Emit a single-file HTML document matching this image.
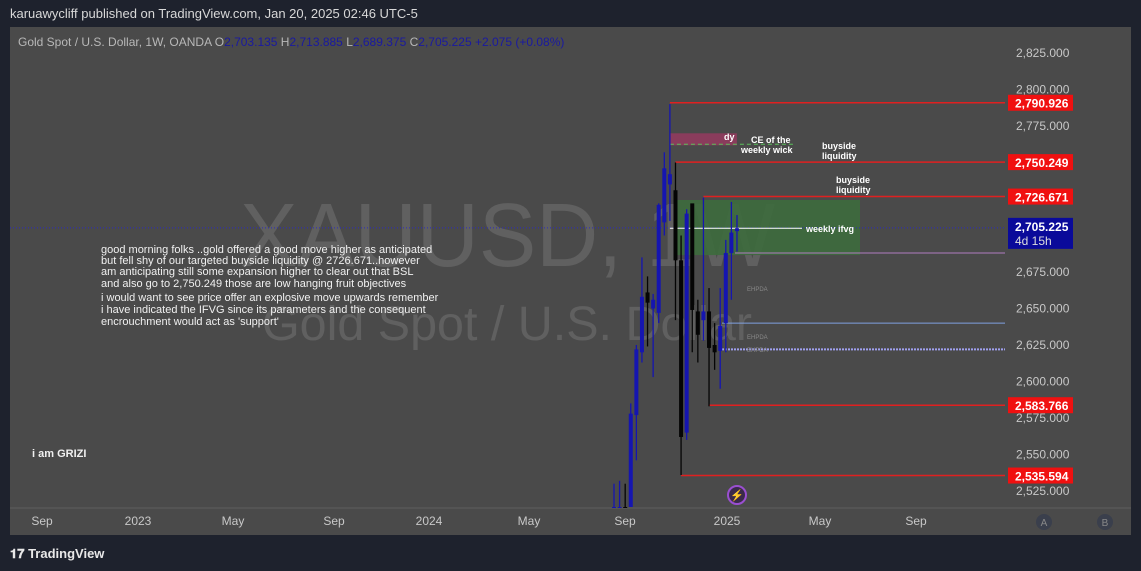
<!DOCTYPE html>
<html><head><meta charset="utf-8"><style>
body{margin:0;width:1141px;height:571px;background:#1e222d;overflow:hidden;font-family:"Liberation Sans",sans-serif}
svg{position:absolute;left:0;top:0}
</style></head><body>
<svg id="c" width="1141" height="571">
<rect x="0" y="0" width="1141" height="571" fill="#1e222d"/>
<rect x="10" y="27" width="1121" height="508" fill="#4a4a4a"/>
<text x="10" y="18" fill="#d8d8d8" font-size="13">karuawycliff published on TradingView.com, Jan 20, 2025 02:46 UTC-5</text>
<text x="18" y="46" font-size="12" fill="#b8b8b8">Gold Spot / U.S. Dollar, 1W, OANDA  O<tspan fill="#1a1aa0">2,703.135</tspan>  H<tspan fill="#1a1aa0">2,713.885</tspan>  L<tspan fill="#1a1aa0">2,689.375</tspan>  C<tspan fill="#1a1aa0">2,705.225 +2.075 (+0.08%)</tspan></text>
<text x="240" y="266" font-size="90" fill="rgba(255,255,255,0.12)" textLength="535" lengthAdjust="spacingAndGlyphs">XAUUSD, 1W</text>
<text x="262" y="340" font-size="48" fill="rgba(255,255,255,0.12)" textLength="490" lengthAdjust="spacingAndGlyphs">Gold Spot / U.S. Dollar</text>
<line x1="10" y1="508" x2="1131" y2="508" stroke="#5e5e5e"/>
<g id="grid"></g><g id="draw"></g><g id="candles"></g><g id="axis"></g>
<g font-size="11" fill="#f0f0f0">
<text x="101" y="253">good morning folks ..gold offered a good move higher as anticipated</text>
<text x="101" y="264">but fell shy of our targeted buyside liquidity @ 2726.671..however</text>
<text x="101" y="275">am anticipating still some expansion higher to clear out that BSL</text>
<text x="101" y="287">and also go to 2,750.249 those are low hanging fruit objectives</text>
<text x="101" y="301">i would want to see price offer an explosive move upwards remember</text>
<text x="101" y="313">i have indicated the IFVG since its parameters and the consequent</text>
<text x="101" y="325">encrouchment would act as 'support'</text>
</g>
<text x="32" y="457" font-size="11" font-weight="bold" fill="#f0f0f0">i am GRIZI</text>
<circle cx="737" cy="495" r="9" fill="#3a2a4a" stroke="#9a4fd0" stroke-width="2"/>
<text x="737" y="499" font-size="11" fill="#c68cf0" text-anchor="middle">⚡</text>
<circle cx="1044" cy="522" r="8" fill="#3a3f4c"/>
<text x="1044" y="526" font-size="10" fill="#888" text-anchor="middle">A</text>
<circle cx="1105" cy="522" r="8" fill="#3a3f4c"/>
<text x="1105" y="526" font-size="10" fill="#888" text-anchor="middle">B</text>
<text x="10" y="558" font-size="13" font-weight="bold" fill="#e8e8e8">𝟏𝟕 TradingView</text>
</svg>
<script>
const priceTicks=[2825,2800,2775,2750,2725,2700,2675,2650,2625,2600,2575,2550,2525];
const timeLabels=["Sep","2023","May","Sep","2024","May","Sep","2025","May","Sep"];
const timeLabelX=[42,138,233,334,429,529,625,727,820,916];
const opens =[2500,2505,2510,2505,2577,2620,2661,2650,2647,2709,2735,2731,2683,2565,2722,2648,2642,2648,2625,2621,2640,2688,2703];
const highs =[2530,2532,2530,2585,2625,2685,2672,2660,2722,2757,2790,2750,2700,2718,2721,2656,2726,2664,2640,2664,2697,2723,2714];
const lows  =[2480,2480,2480,2470,2546,2613,2624,2603,2640,2700,2710,2642,2536,2560,2620,2613,2628,2583,2608,2595,2620,2656,2689];
const closes=[2510,2512,2506,2578,2622,2658,2654,2656,2721,2746,2742,2683,2562,2715,2649,2632,2648,2623,2620,2638,2688,2702,2705];
const levelPrices=[2790.926,2750.249,2726.671,2583.766,2535.594];
const levelLabels=["2,790.926","2,750.249","2,726.671","2,583.766","2,535.594"];
const levelStartIdx=[10,11,16,17,12];
const lastPrice=2705.225;
const y=p=>53+(2825-p)*1.46;
const x=i=>614+i*5.59;
const NS="http://www.w3.org/2000/svg";
function mk(tag,a,parent){const e=document.createElementNS(NS,tag);for(const k in a)e.setAttribute(k,a[k]);document.getElementById(parent).appendChild(e);return e;}
priceTicks.forEach(p=>{const t=mk('text',{x:1016,y:y(p)+4,'font-size':12,fill:'#c8c8c8'},'axis');t.textContent=p.toLocaleString('en-US',{minimumFractionDigits:3});

});
timeLabels.forEach((s,i)=>{const t=mk('text',{x:timeLabelX[i],y:525,'font-size':12,fill:'#c8c8c8','text-anchor':'middle'},'axis');t.textContent=s;

});
const d='draw';
let r=mk('rect',{x:677,y:y(2724.3),width:860-677,height:y(2686.6)-y(2724.3),fill:'#3d6b3d',opacity:0.9},d);


r=mk('rect',{x:x(10),y:y(2770),width:67,height:12,fill:'#8a3c5c'},d);


let l=mk('line',{x1:x(10),y1:y(2762.5),x2:795,y2:y(2762.5),stroke:'#5ac05a','stroke-dasharray':'4,3'},d);


l=mk('line',{x1:10,y1:y(lastPrice),x2:1005,y2:y(lastPrice),stroke:'#2a2ac0','stroke-dasharray':'1,2'},d);


l=mk('line',{x1:x(10),y1:y(2705),x2:802,y2:y(2705),stroke:'#ffffff'},d);


l=mk('line',{x1:735,y1:y(2688),x2:1005,y2:y(2688),stroke:'#b07cc0'},d);


l=mk('line',{x1:722,y1:y(2640),x2:1005,y2:y(2640),stroke:'#7fa0e0'},d);


l=mk('line',{x1:722,y1:y(2622),x2:1005,y2:y(2622),stroke:'#a0a0f0','stroke-dasharray':'2,1','stroke-width':2},d);


levelPrices.forEach((p,i)=>{const ln=mk('line',{x1:x(levelStartIdx[i]),y1:y(p),x2:1005,y2:y(p),stroke:'#e02020','stroke-width':1.5},d);


const b=mk('rect',{x:1008,y:y(p)-8,width:65,height:16,fill:'#f01010'},'axis');


const t=mk('text',{x:1015,y:y(p)+5,'font-size':12,'font-weight':'bold',fill:'#fff'},'axis');t.textContent=levelLabels[i];

});
let b=mk('rect',{x:1008,y:y(lastPrice)-10,width:65,height:31,fill:'#0a0a9a'},'axis');


let t=mk('text',{x:1015,y:y(lastPrice)+3,'font-size':12,'font-weight':'bold',fill:'#fff'},'axis');t.textContent="2,705.225";


t=mk('text',{x:1015,y:y(lastPrice)+17,'font-size':12,fill:'#ddd'},'axis');t.textContent="4d 15h";


const notes=[[724,140,'dy','#fff'],[751,143,'CE of the','#fff'],[741,153,'weekly wick','#fff'],[822,149,'buyside','#fff'],[822,159,'liquidity','#fff'],[836,183,'buyside','#fff'],[836,193,'liquidity','#fff'],[806,232,'weekly ifvg','#fff']];
notes.forEach(n=>{const e=mk('text',{x:n[0],y:n[1],'font-size':9,'font-weight':'bold',fill:n[3]},d);e.textContent=n[2];

});
[[747,291,'EHPDA'],[747,339,'EHPDA'],[747,352,'EHPDA']].forEach(n=>{const e=mk('text',{x:n[0],y:n[1],'font-size':6,fill:'#888'},d);e.textContent=n[2];

});
const clip=(v)=>Math.min(507,Math.max(28,v));
opens.forEach((o,i)=>{const c=closes[i],col=c>=o?'#1515b0':'#050505',cx=x(i);
const w=mk('line',{x1:cx,y1:clip(y(highs[i])),x2:cx,y2:clip(y(lows[i])),stroke:col,'stroke-width':1.3},'candles');


const top=clip(y(Math.max(o,c))),bot=clip(y(Math.min(o,c)));
const bd=mk('rect',{x:cx-2,y:top,width:4,height:Math.max(1,bot-top),fill:col},'candles');

});
</script>
</body></html>
